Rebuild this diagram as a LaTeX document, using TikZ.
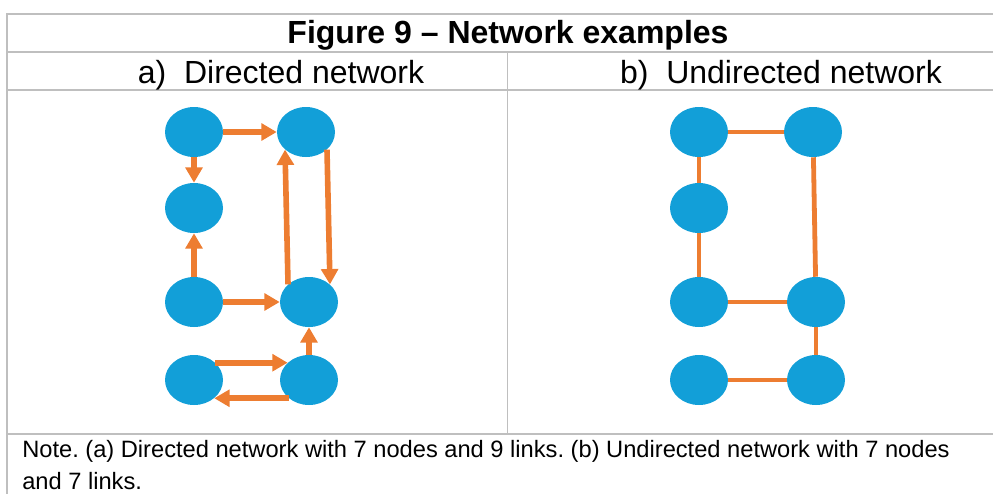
\documentclass[tikz,border=0pt]{standalone}
\usepackage{fontspec}
\setmainfont{Liberation Sans}
\usepackage{tikz}
\usepackage{xcolor}
\usetikzlibrary{shapes.geometric,arrows.meta}
\definecolor{netblue}{RGB}{18,159,216}
\definecolor{netorange}{RGB}{237,125,49}
\definecolor{tablegrey}{RGB}{191,191,191}
\tikzset{
    net-node/.style = {ellipse, fill=netblue, draw=none, inner sep=0pt, minimum width=43.5pt, minimum height=37.5pt},
    dir-link/.style = {draw=netorange, line width=4.2pt, -{Triangle[width=12.5pt,length=11.5pt]}},
    undir-link/.style = {draw=netorange, line width=3.6pt},
    grid-line/.style = {draw=tablegrey, line width=1.2pt},
    head-text/.style = {font=\fontsize{24}{28}\selectfont, inner sep=0pt, anchor=base},
    note-text/.style = {font=\fontsize{17.75}{22}\selectfont\frenchspacing, inner sep=0pt, anchor=base west},
}

\begin{document}
\begin{tikzpicture}[x=0.75pt, y=-0.75pt]
\useasboundingbox (0,0) rectangle (993,494);

% table frame
\draw[grid-line] (6,14) -- (993,14);
\draw[grid-line] (6,52) -- (993,52);
\draw[grid-line] (6,90) -- (993,90);
\draw[grid-line] (6,434) -- (993,434);
\draw[grid-line] (6.7,14) -- (6.7,494);
\draw[grid-line, line width=0.8pt] (507.7,52) -- (507.7,434);

% headings
\node[head-text, font=\fontsize{24}{28}\selectfont\bfseries] (title) at (508,43) {Figure 9 – Network examples};
\node[head-text] (head-a) at (281,83) {a)\ \ Directed network};
\node[head-text] (head-b) at (781,83) {b)\ \ Undirected network};

% directed network
\node[net-node] (d1) at (194,132) {};
\node[net-node] (d2) at (306,132) {};
\node[net-node] (d3) at (194,208) {};
\node[net-node] (d4) at (194,302) {};
\node[net-node] (d5) at (309,302) {};
\node[net-node] (d6) at (194,380) {};
\node[net-node] (d7) at (309,380) {};

\draw[dir-link] (d1) -- (d2);
\draw[dir-link] (d1) -- (d3);
\draw[dir-link] (d4) -- (d3);
\draw[dir-link] (d4) -- (d5);
\draw[dir-link] (d5.140) -- (d2.-140);
\draw[dir-link] (d2.-40) -- (d5.40);
\draw[dir-link] (d6.39) -- (d7.141);
\draw[dir-link] (d7.-138) -- (d6.-42);
\draw[dir-link] (d7) -- (d5);

% undirected network
\node[net-node] (u1) at (699,132) {};
\node[net-node] (u2) at (813,132) {};
\node[net-node] (u3) at (699,208) {};
\node[net-node] (u4) at (699,302) {};
\node[net-node] (u5) at (816,302) {};
\node[net-node] (u6) at (699,380) {};
\node[net-node] (u7) at (816,380) {};

\draw[undir-link] (u1) -- (u2);
\draw[undir-link] (u1) -- (u3);
\draw[undir-link] (u3) -- (u4);
\draw[undir-link] (u4) -- (u5);
\draw[undir-link] (u2) -- (u5);
\draw[undir-link] (u5) -- (u7);
\draw[undir-link] (u6) -- (u7);

% note
\node[note-text] (note) at (22,457) {Note. (a) Directed network with 7 nodes and 9 links. (b) Undirected network with 7 nodes};
\node[note-text] (note-end) at (22,489) {and 7 links.};
\end{tikzpicture}
\end{document}
